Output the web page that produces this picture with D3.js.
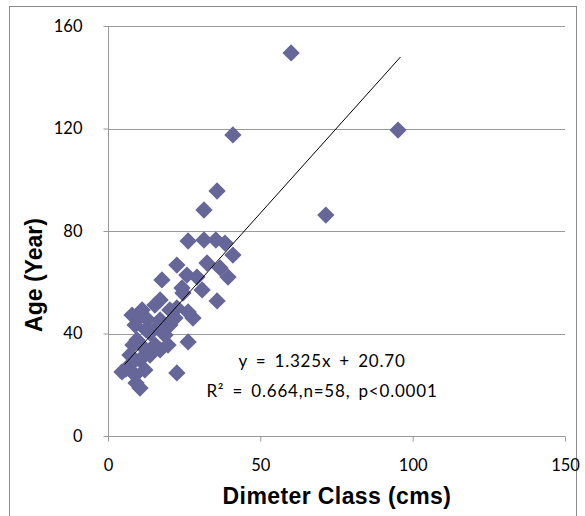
<!DOCTYPE html>
<html>
<head>
<meta charset="utf-8">
<script src="https://cdn.jsdelivr.net/npm/d3@7"></script>
<style>
  html, body { margin: 0; padding: 0; background: #fff; }
  svg { display: block; }
</style>
</head>
<body>
<svg id="chart" width="585" height="516"></svg>
<script>
// Diameter class (cm) and tree age (years) for the 58 sampled trees
const diameter = [
  60.1, 95.2, 71.5, 41.0, 35.8, 31.5, 26.3, 31.5, 35.4, 38.4,
  41.0, 22.6, 32.5, 36.8, 39.4, 17.7, 29.2, 25.9, 24.3, 30.9,
  35.8, 24.6, 17.1, 11.2, 22.6, 20.3, 15.4, 27.9, 26.3, 10.8,
   7.9, 13.1, 17.1, 20.3,  9.5, 13.8, 18.7, 26.3, 11.5, 15.4,
   7.2, 10.5, 13.8,  7.2,  4.6,  8.9, 12.1, 22.6, 10.5,  9.2,
   5.9, 17.1, 19.7, 12.5,  8.2, 16.4,  8.9, 22.0
];
const age = [
  149.5, 119.4, 86.2, 117.5, 95.6, 88.2, 76.1, 76.5, 76.5, 75.3,
   70.6,  66.7, 67.5,  65.6, 62.0, 60.9, 62.0, 62.8, 57.8, 57.0,
   52.7,  55.8, 53.1,  49.2, 50.0, 49.2, 51.1, 46.0, 48.4, 47.2,
   47.2,  45.3, 45.3,  43.3, 37.5, 40.2, 39.4, 36.7, 34.7, 35.5,
   31.6,  29.7, 31.6,  27.7, 25.0, 23.8, 25.8, 24.6, 18.7, 20.7,
   26.1,  33.6, 35.5,  41.4, 35.5, 42.5, 43.3, 46.0
];

// Linear fit reported for the data: y = 1.325x + 20.70
const slope = 1.325;
const intercept = 20.70;
const fitRange = [5.5, 96];

const xTicks = [0, 50, 100, 150];
const yTicks = [0, 40, 80, 120, 160];
const eqLines = ["y = 1.325x + 20.70", "R\u00B2 = 0.664,n=58, p<0.0001"];

const svg = d3.select("#chart");
const plot = { left: 108, right: 565, top: 26, bottom: 436 };

const x = d3.scaleLinear().domain([0, 150]).range([plot.left, plot.right]);
const y = d3.scaleLinear().domain([0, 160]).range([plot.bottom, plot.top]);

const axisGray = "#9a9a9a";
const tickFont = "Lato, 'Open Sans', sans-serif";

// Outer chart frame
svg.append("rect")
  .attr("x", 9.5).attr("y", 6.5)
  .attr("width", 567).attr("height", 530)
  .attr("fill", "none").attr("stroke", "#8c8c8c").attr("stroke-width", 1);

// Horizontal gridlines
svg.append("g")
  .selectAll("line")
  .data(yTicks.filter(d => d > 0))
  .join("line")
  .attr("x1", plot.left).attr("x2", plot.right)
  .attr("y1", d => Math.round(y(d)) + 0.5).attr("y2", d => Math.round(y(d)) + 0.5)
  .attr("stroke", axisGray).attr("stroke-width", 1);

// Y axis
const yAxis = svg.append("g")
  .attr("transform", `translate(${plot.left + 0.5},0)`)
  .call(d3.axisLeft(y).tickValues(yTicks).tickSize(5).tickPadding(21).tickFormat(d3.format("d")));
yAxis.select(".domain").attr("stroke", axisGray).attr("d", `M-0,${plot.top}V${plot.bottom}`);
yAxis.selectAll(".tick line").attr("stroke", axisGray);
yAxis.selectAll(".tick text")
  .attr("font-family", tickFont).attr("font-size", 16.5).attr("fill", "#000");

// X axis
const xAxis = svg.append("g")
  .attr("transform", `translate(0,${plot.bottom + 0.5})`)
  .call(d3.axisBottom(x).tickValues(xTicks).tickSize(5).tickPadding(18).tickFormat(d3.format("d")));
xAxis.select(".domain").attr("stroke", axisGray).attr("d", `M${plot.left},0H${plot.right}`);
xAxis.selectAll(".tick line").attr("stroke", axisGray);
xAxis.selectAll(".tick text")
  .attr("font-family", tickFont).attr("font-size", 16.5).attr("fill", "#000");

// Axis titles
svg.append("text")
  .attr("x", 337).attr("y", 504)
  .attr("text-anchor", "middle")
  .attr("font-family", "'Liberation Sans', Arial, sans-serif")
  .attr("font-weight", "bold").attr("font-size", 23)
  .attr("letter-spacing", 0.4)
  .text("Dimeter Class (cms)");

svg.append("text")
  .attr("transform", "translate(42,275) rotate(-90)")
  .attr("text-anchor", "middle")
  .attr("font-family", "'Liberation Sans', Arial, sans-serif")
  .attr("font-weight", "bold").attr("font-size", 23)
  .text("Age (Year)");

// Scatter points as diamonds
const points = diameter.map((d, i) => ({ x: d, y: age[i] }));
svg.append("g")
  .selectAll("path")
  .data(points)
  .join("path")
  .attr("transform", d => `translate(${x(d.x)},${y(d.y)}) rotate(45)`)
  .attr("d", d3.symbol().type(d3.symbolSquare).size(150))
  .attr("fill", "#666699");

// Trend line
svg.append("line")
  .attr("x1", x(fitRange[0])).attr("y1", y(slope * fitRange[0] + intercept))
  .attr("x2", x(fitRange[1])).attr("y2", y(slope * fitRange[1] + intercept))
  .attr("stroke", "#000").attr("stroke-width", 1);

// Regression equation label
const eq = svg.append("text")
  .attr("font-family", tickFont).attr("font-size", 17).attr("fill", "#000")
  .attr("text-anchor", "middle")
  .attr("word-spacing", 3);
eq.append("tspan").attr("x", 322).attr("y", 367).attr("letter-spacing", 0.8).text(eqLines[0]);
eq.append("tspan").attr("x", 322).attr("y", 397).attr("letter-spacing", 0.8).text(eqLines[1]);
</script>
</body>
</html>
